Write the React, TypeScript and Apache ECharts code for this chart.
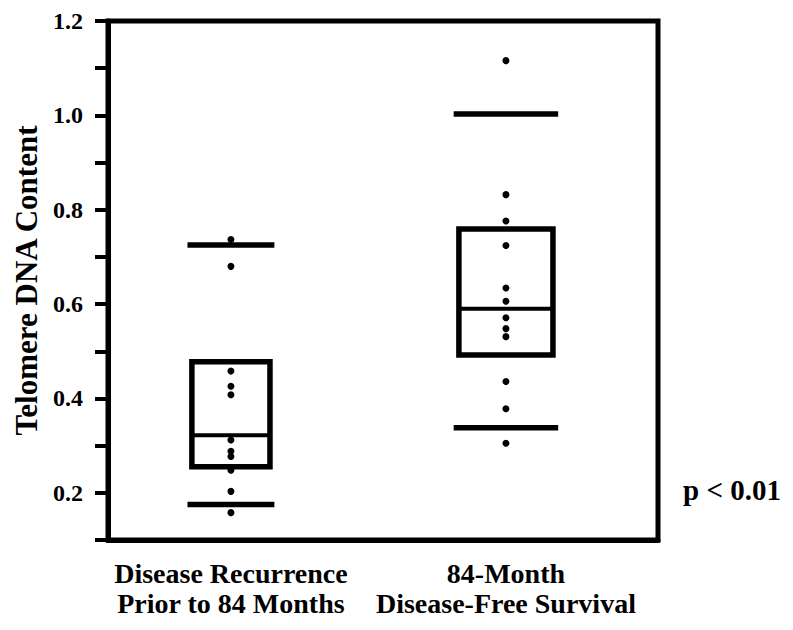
import React, { useEffect, useRef } from "react";
import * as echarts from "echarts";

// ---- data ----
const categories = ["Disease Recurrence\nPrior to 84 Months", "84-Month\nDisease-Free Survival"];
const whiskerLow = [0.175, 0.338];
const boxLow = [0.255, 0.492];
const medians = [0.322, 0.59];
const boxHigh = [0.478, 0.759];
const whiskerHigh = [0.725, 1.003];
const recurrencePoints = [0.737, 0.68, 0.458, 0.426, 0.408, 0.312, 0.288, 0.277, 0.248, 0.203, 0.158];
const survivalPoints = [1.116, 0.832, 0.776, 0.724, 0.634, 0.606, 0.571, 0.548, 0.531, 0.436, 0.378, 0.305];
const yTickLabels = ["0.2", "0.4", "0.6", "0.8", "1.0", "1.2"];
const yAxisTitle = "Telomere DNA Content";
const pValueText = "p < 0.01";

// ---- styles ----
const boxHalfWidths = [0.142, 0.171];
const capHalfWidths = [0.158, 0.19];
const FONT = "'Liberation Serif', 'Times New Roman', Times, serif";

export default function App() {
  const ref = useRef<HTMLDivElement>(null);
  useEffect(() => {
    if (!ref.current) return;
    const chart = echarts.init(ref.current, null, { renderer: "svg" });
    const boxData = categories.map((_, i) => [i + 1, whiskerLow[i], boxLow[i], medians[i], boxHigh[i], whiskerHigh[i]]);
    const pointData = [
      ...recurrencePoints.map((v) => [1, v]),
      ...survivalPoints.map((v) => [2, v]),
    ];
    chart.setOption({
      animation: false,
      backgroundColor: "#fff",
      grid: {
        left: 108,
        right: 135,
        top: 21,
        bottom: 90,
        containLabel: false,
        outerBoundsMode: "none",
        show: true,
        borderColor: "#000",
        borderWidth: 5,
        backgroundColor: "transparent",
      },
      xAxis: {
        type: "value",
        min: 0.553,
        max: 2.553,
        splitLine: { show: false },
        axisTick: { show: false },
        axisLine: { show: true, onZero: false, lineStyle: { color: "#000", width: 5 } },
        axisLabel: {
          customValues: [1, 2],
          formatter: (v: number) => categories[Math.round(v) - 1] ?? "",
          color: "#000",
          fontFamily: FONT,
          fontWeight: "bold",
          fontSize: 28,
          lineHeight: 30,
          margin: 18,
          align: "center",
        },
      },
      yAxis: {
        type: "value",
        min: 0.1,
        max: 1.2,
        interval: 0.1,
        splitLine: { show: false },
        axisLine: { show: true, onZero: false, lineStyle: { color: "#000", width: 5 } },
        axisTick: { show: true, inside: false, length: 13, lineStyle: { color: "#000", width: 4 } },
        axisLabel: {
          formatter: (v: number) => {
            const s = v.toFixed(1);
            return yTickLabels.includes(s) ? s : "";
          },
          color: "#000",
          fontFamily: FONT,
          fontWeight: "bold",
          fontSize: 24,
          margin: 25,
        },
        name: yAxisTitle,
        nameLocation: "middle",
        nameGap: 66,
        nameRotate: 90,
        nameTextStyle: {
          color: "#000",
          fontFamily: FONT,
          fontWeight: "bold",
          fontSize: 31,
        },
      },
      graphic: [
        {
          type: "text",
          left: 683,
          top: 475,
          style: {
            text: pValueText,
            fill: "#000",
            font: `bold 29px ${FONT}`,
          },
        },
      ],
      series: [
        {
          type: "custom",
          data: boxData,
          encode: { x: 0, y: [1, 2, 3, 4, 5] },
          z: 2,
          renderItem: (params: any, api: any) => {
            const i = params.dataIndex;
            const x = api.value(0);
            const cx = api.coord([x, 0])[0];
            const unit = api.size([1, 0])[0];
            const bw = boxHalfWidths[i] * unit;
            const cw = capHalfWidths[i] * unit;
            const yLo = api.coord([x, api.value(1)])[1];
            const yQ1 = api.coord([x, api.value(2)])[1];
            const yMed = api.coord([x, api.value(3)])[1];
            const yQ3 = api.coord([x, api.value(4)])[1];
            const yHi = api.coord([x, api.value(5)])[1];
            return {
              type: "group",
              children: [
                { type: "rect", shape: { x: cx - bw, y: yQ3, width: 2 * bw, height: yQ1 - yQ3 }, style: { stroke: "#000", fill: "none", lineWidth: 5.5 } },
                { type: "line", shape: { x1: cx - bw, y1: yMed, x2: cx + bw, y2: yMed }, style: { stroke: "#000", lineWidth: 4 } },
                { type: "line", shape: { x1: cx - cw, y1: yLo, x2: cx + cw, y2: yLo }, style: { stroke: "#000", lineWidth: 5.5 } },
                { type: "line", shape: { x1: cx - cw, y1: yHi, x2: cx + cw, y2: yHi }, style: { stroke: "#000", lineWidth: 5.5 } },
              ],
            };
          },
        },
        {
          type: "scatter",
          data: pointData,
          symbol: "circle",
          symbolSize: 7,
          itemStyle: { color: "#000", opacity: 1 },
          z: 3,
        },
      ],
    });
    return () => chart.dispose();
  }, []);
  return (
    <div
      ref={ref}
      style={{ position: "fixed", left: 0, top: 0, width: 793, height: 630, background: "#fff" }}
    />
  );
}
